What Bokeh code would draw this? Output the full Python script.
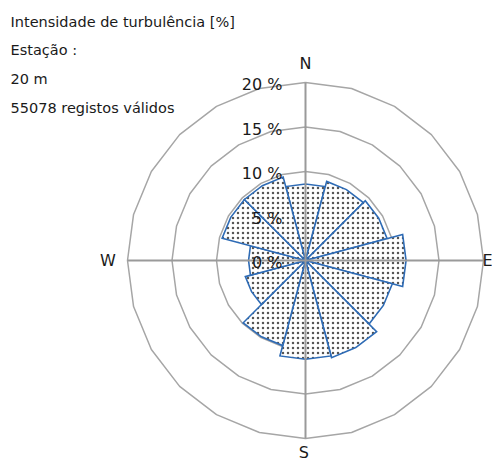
import math
from bokeh.plotting import figure
from bokeh.models import Range1d, Label
from bokeh.core.properties import value
from bokeh.embed import file_html
from bokeh.resources import INLINE

# ---- data ----
directions = [0, 30, 60, 90, 120, 150, 180, 210, 240, 270, 300, 330]  # degrees from N, clockwise
turbulence = [8.6, 9.2, 9.5, 11.3, 10.1, 11.3, 11.1, 9.9, 7.0, 6.4, 9.7, 9.7]  # %
ring_levels = [5, 10, 15, 20]
tick_levels = [0, 5, 10, 15, 20]
tick_labels = ["0 %", "5 %", "10 %", "15 %", "20 %"]
compass = ["N", "E", "S", "W"]
info_lines = ["Intensidade de turbulência [%]", "Estação :", "20 m", "55078 registos válidos"]

# ---- layout ----
W, H = 492, 461
K = 8.9           # px per %
CX, CY = 305, 260  # center in figure pixels (from top-left)
FONT = "DejaVu Sans"

p = figure(width=W, height=H, output_backend="svg", toolbar_location=None,
           x_range=Range1d(-CX / K, (W - CX) / K), y_range=Range1d(-(H - CY) / K, CY / K),
           x_axis_location=None, y_axis_location=None, min_border=0)
p.grid.visible = False
p.outline_line_color = None
p.background_fill_color = "white"


def pol(r, deg):
    t = math.radians(deg)
    return r * math.sin(t), r * math.cos(t)

# rings (24-gon)
for lv in ring_levels:
    pts = [pol(lv, a) for a in range(0, 361, 15)]
    p.line([q[0] for q in pts], [q[1] for q in pts], line_color="#A6A6A6", line_width=1.5)

# bars
xs, ys = [], []
for d, v in zip(directions, turbulence):
    pts = [(0.0, 0.0)] + [pol(v, d + o) for o in (-15, 0, 15)]
    xs.append([q[0] for q in pts])
    ys.append([q[1] for q in pts])
p.patches(xs, ys, fill_color="white", hatch_pattern="dot", hatch_color="#555555",
          hatch_scale=5, hatch_weight=1.3, line_color="#2E6BB5", line_width=1.6,
          line_join="miter")

# axes
rmax = max(ring_levels)
p.line([0, 0], [-rmax, rmax], line_color="#9A9A9A", line_width=2)
p.line([-rmax, rmax], [0, 0], line_color="#9A9A9A", line_width=2)

# ring labels
p.text(x=[-2.6] * len(tick_levels), y=[t - 0.25 for t in tick_levels], text=tick_labels,
       text_align="right", text_baseline="middle", text_font=value(FONT),
       text_font_size="16px", text_color="#1A1A1A")

# compass labels
p.text(x=[0], y=[rmax + 2.1], text=[compass[0]], text_align="center", text_baseline="middle",
       text_font=value(FONT), text_font_size="16px", text_color="#1A1A1A")
p.text(x=[-rmax - 2.2], y=[0], text=[compass[3]], text_align="center", text_baseline="middle",
       text_font=value(FONT), text_font_size="16px", text_color="#1A1A1A")
p.text(x=[(W - CX) / K], y=[0], text=[compass[1]], text_align="right", text_baseline="middle",
       text_font=value(FONT), text_font_size="16px", text_color="#1A1A1A")
p.text(x=[-0.2], y=[-(H - CY) / K], text=[compass[2]], text_align="center", text_baseline="bottom",
       text_font=value(FONT), text_font_size="16px", text_color="#1A1A1A")

# info text (screen units, y from bottom)
baselines = [21.7, 49.5, 78.0, 107.5]
for txt, yb in zip(info_lines, baselines):
    p.add_layout(Label(x=10, y=H - yb, x_units="screen", y_units="screen", text=txt,
                       text_font=FONT, text_font_size="14.5px", text_color="#1A1A1A",
                       text_baseline="alphabetic", text_align="left"))

open("out.html", "w").write(file_html(p, INLINE))
